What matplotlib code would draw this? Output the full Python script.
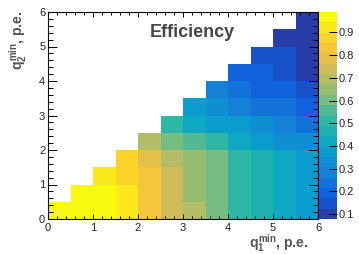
"""
Efficiency map vs. q1 / q2 thresholds
"""
import numpy as np
import matplotlib
matplotlib.use("Agg")
import matplotlib.pyplot as plt
from matplotlib.colors import LinearSegmentedColormap, ListedColormap, Normalize
from matplotlib.ticker import MultipleLocator

plt.rcParams['font.family'] = ['Liberation Sans', 'DejaVu Sans']
plt.rcParams['mathtext.fontset'] = 'custom'
plt.rcParams['mathtext.rm'] = 'Liberation Sans:bold'
plt.rcParams['mathtext.bf'] = 'Liberation Sans:bold'
plt.rcParams['mathtext.it'] = 'Liberation Sans:bold'

# bin edges, p.e.
q1_edges = np.arange(0, 6.01, 0.5)
q2_edges = np.arange(0, 6.01, 0.5)

# efficiency, one list per q2 bin (row j holds q1 bins j..11)
row0 = [0.99, 0.98, 0.97, 0.92, 0.83, 0.74, 0.69, 0.60, 0.51, 0.47, 0.42, 0.37]
row1 = [0.98, 0.97, 0.92, 0.83, 0.74, 0.65, 0.60, 0.51, 0.47, 0.42, 0.37]
row2 = [0.93, 0.88, 0.83, 0.74, 0.65, 0.60, 0.51, 0.47, 0.42, 0.37]
row3 = [0.88, 0.78, 0.69, 0.65, 0.60, 0.51, 0.46, 0.42, 0.37]
row4 = [0.69, 0.60, 0.56, 0.51, 0.42, 0.37, 0.33, 0.32]
row5 = [0.51, 0.42, 0.37, 0.36, 0.33, 0.28, 0.24]
row6 = [0.37, 0.33, 0.28, 0.25, 0.24, 0.19]
row7 = [0.28, 0.24, 0.19, 0.19, 0.15]
row8 = [0.20, 0.19, 0.15, 0.11]
row9 = [0.15, 0.14, 0.10]
row10 = [0.10, 0.09]
row11 = [0.078]
rows = [row0, row1, row2, row3, row4, row5, row6, row7, row8, row9, row10, row11]

cbar_ticks = [0.1, 0.2, 0.3, 0.4, 0.5, 0.6, 0.7, 0.8, 0.9]

eff = np.full((12, 12), np.nan)
for j, r in enumerate(rows):
    eff[j, j:j + len(r)] = r

# ROOT kBird palette, 20 contours
stops = [0.0, 0.125, 0.25, 0.375, 0.5, 0.625, 0.75, 0.875, 1.0]
red = [0.2082, 0.0592, 0.0780, 0.0232, 0.1802, 0.5301, 0.8186, 0.9956, 0.9764]
green = [0.1664, 0.3599, 0.5041, 0.6419, 0.7178, 0.7492, 0.7328, 0.7862, 0.9832]
blue = [0.5293, 0.8684, 0.8385, 0.7914, 0.6425, 0.4662, 0.3499, 0.1968, 0.0539]
bird = LinearSegmentedColormap.from_list(
    'bird', list(zip(stops, zip(red, green, blue))))
ncont = 20
cmap = ListedColormap(bird((np.arange(ncont) + 0.99) / ncont))

fig = plt.figure(figsize=(3.59, 2.54), dpi=100)
ax = fig.add_axes([48 / 359, 35 / 254, 270 / 359, 207 / 254])
cax = fig.add_axes([319 / 359, 35 / 254, 18 / 359, 207 / 254])

mesh = ax.pcolormesh(q1_edges, q2_edges, np.ma.masked_invalid(eff), cmap=cmap,
                     norm=Normalize(np.nanmin(eff), np.nanmax(eff)))

ax.set_xlim(0, 6)
ax.set_ylim(0, 6)
for axis in (ax.xaxis, ax.yaxis):
    axis.set_major_locator(MultipleLocator(1))
    axis.set_minor_locator(MultipleLocator(0.2))
ax.tick_params(which='both', direction='in', top=True, right=True,
               labelsize=8, labelcolor='#222222', width=0.7)
ax.tick_params(axis='x', which='major', length=3.6, pad=3)
ax.tick_params(axis='x', which='minor', length=2)
ax.tick_params(axis='y', which='major', length=6.5, pad=2)
ax.tick_params(axis='y', which='minor', length=3.5)
for s in ax.spines.values():
    s.set_linewidth(0.8)

ax.text(0.533, 0.899, 'Efficiency', transform=ax.transAxes, ha='center',
        va='center', fontsize=13, fontweight='bold', color='#464646')

fig.text(309 / 359, 1 - 248 / 254, r'$q_1^{min}$, p.e.', ha='right', va='baseline',
         fontsize=10, fontweight='bold', color='#555555')
fig.text(18 / 359, 1 - 10 / 254, r'$q_2^{min}$, p.e.', ha='center', va='top',
         rotation=90, fontsize=10, fontweight='bold', color='#555555')

cb = fig.colorbar(mesh, cax=cax, ticks=cbar_ticks)
cb.outline.set_visible(False)
cax.tick_params(direction='in', length=6, width=0.7, pad=1,
                labelsize=8, labelcolor='#222222')
cax.set_yticklabels([str(t) for t in cbar_ticks])

fig.savefig('out.png', dpi=100)
